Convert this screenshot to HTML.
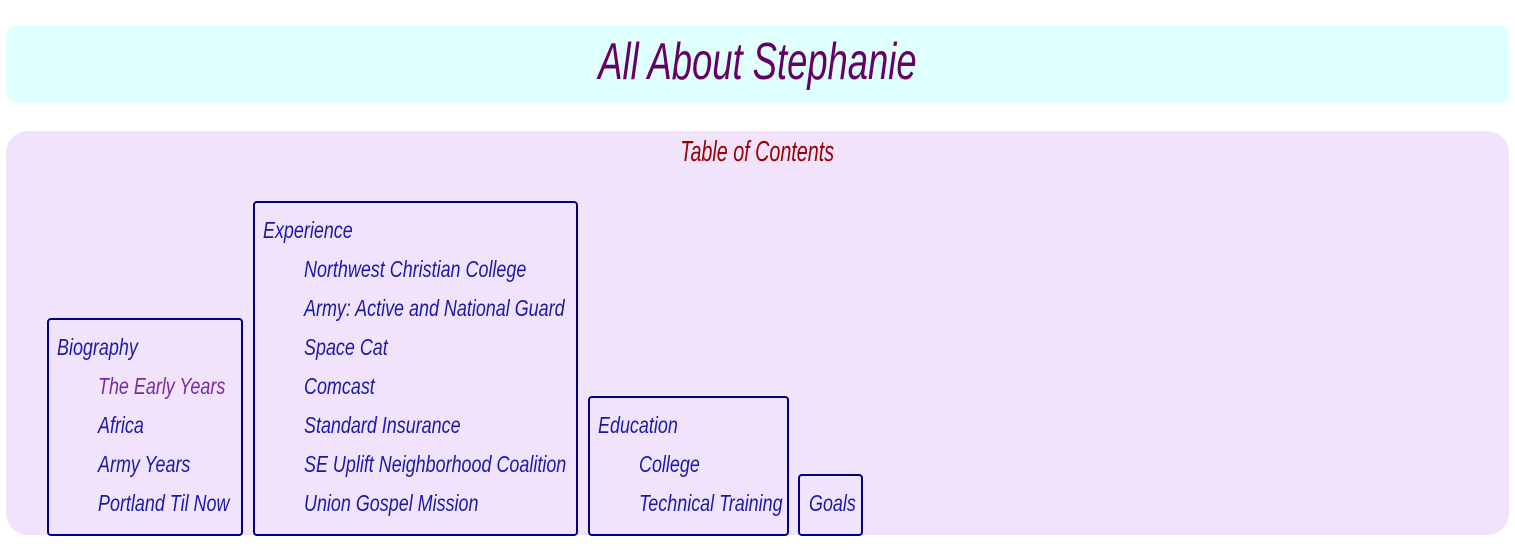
<!DOCTYPE html>
<html><head><meta charset="utf-8"><style>
body{margin:0;width:1515px;height:552px;background:#fff;position:relative;overflow:hidden;font-family:"Liberation Sans",sans-serif;font-style:italic}
.p{position:absolute;box-sizing:border-box}
#t{left:6px;top:25px;width:1503px;height:78px;background:#e0ffff;border-radius:10px;text-align:center;color:#660066;font-size:52px;line-height:74px}
#t span{display:inline-block;transform:scaleX(0.70);transform-origin:center}
#m{left:6px;top:131px;width:1503px;height:404px;background:#f1e3fc;border-radius:22px}
#toc{left:6px;top:134px;width:1503px;text-align:center;color:#990000;font-size:29px;line-height:36px}
#toc span{display:inline-block;transform:scaleX(0.68);transform-origin:center}
.b{border:2px solid #000080;border-radius:4px;color:#1a1aa8;font-size:23px}
.b div{position:absolute;line-height:39px;white-space:nowrap;transform:scaleX(0.78);transform-origin:left center;margin-top:-2px}
</style></head><body>
<div class="p" id="t"><span>All About Stephanie</span></div>
<div class="p" id="m"></div>
<div class="p" id="toc"><span>Table of Contents</span></div>
<div class="p b" style="left:47px;top:318px;width:196px;height:218px">
<div style="left:8px;top:10px">Biography</div>
<div style="left:49px;top:49px;color:#7a2aa0">The Early Years</div>
<div style="left:49px;top:88px">Africa</div>
<div style="left:49px;top:127px">Army Years</div>
<div style="left:49px;top:166px">Portland Til Now</div>
</div>
<div class="p b" style="left:253px;top:201px;width:325px;height:335px">
<div style="left:8px;top:10px">Experience</div>
<div style="left:49px;top:49px">Northwest Christian College</div>
<div style="left:49px;top:88px">Army: Active and National Guard</div>
<div style="left:49px;top:127px">Space Cat</div>
<div style="left:49px;top:166px">Comcast</div>
<div style="left:49px;top:205px">Standard Insurance</div>
<div style="left:49px;top:244px">SE Uplift Neighborhood Coalition</div>
<div style="left:49px;top:283px">Union Gospel Mission</div>
</div>
<div class="p b" style="left:588px;top:396px;width:201px;height:140px">
<div style="left:8px;top:10px">Education</div>
<div style="left:49px;top:49px">College</div>
<div style="left:49px;top:88px">Technical Training</div>
</div>
<div class="p b" style="left:798px;top:474px;width:65px;height:62px">
<div style="left:9px;top:10px">Goals</div>
</div>
</body></html>
